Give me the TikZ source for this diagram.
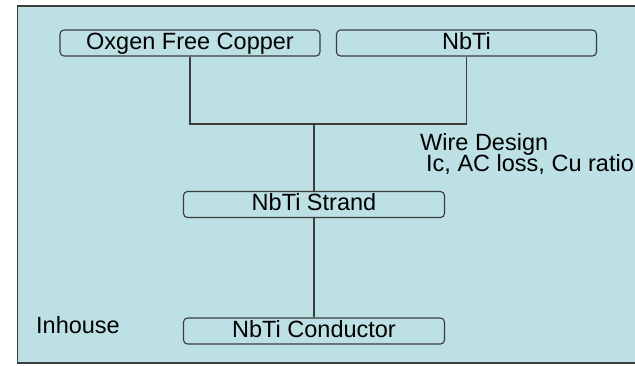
\documentclass[tikz,border=0pt]{standalone}
\usepackage{fontspec}
\setmainfont{Liberation Sans}
\usetikzlibrary{positioning}

\definecolor{slidebg}{RGB}{188,224,228}
\definecolor{edgegray}{RGB}{60,60,60}

\begin{document}
\begin{tikzpicture}[
    x=1pt, y=-1pt,
    stage/.style={rectangle, draw=edgegray, fill=slidebg, line width=1.1pt,
                rounded corners=4pt, minimum width=260pt, minimum height=26pt,
                inner sep=0pt, text height=17pt, text depth=5pt,
                font=\fontsize{23.5}{28}\selectfont},
    note/.style={anchor=base west, inner sep=0pt,
                font=\fontsize{23.5}{28}\selectfont},
    link/.style={draw=edgegray, line width=1.2pt},
]
\useasboundingbox (0,0) rectangle (635,365);
\clip (0,0) rectangle (635,365);

% --- Slide frame ---
\draw[fill=slidebg, draw=edgegray, line width=1.5pt] (17.5,6) rectangle (700,363);

% --- Materials ---
\node[stage] (ofc) at (190,43) {Oxgen Free Copper};
\node[stage] (nbti) at (466.5,43) {NbTi};

% --- Products ---
\node[stage, minimum width=261pt] (strand) at (314,204.5) {NbTi Strand};
\node[stage, minimum width=261pt] (cond) at (314,331) {NbTi Conductor};

\coordinate (join) at (314,124);
\draw[link] (ofc.south) |- (join) -| (nbti.south);
\draw[link] (join) -- (strand.north);
\draw[link] (strand.south) -- (cond.north);

% --- Annotation ---
\node[note] (design) at (420,150) {Wire Design};
\node[note] (params) at (426,171.5) {Ic, AC loss, Cu ratio};
\node[note] (inhouse) at (36,333) {Inhouse};

\end{tikzpicture}
\end{document}
